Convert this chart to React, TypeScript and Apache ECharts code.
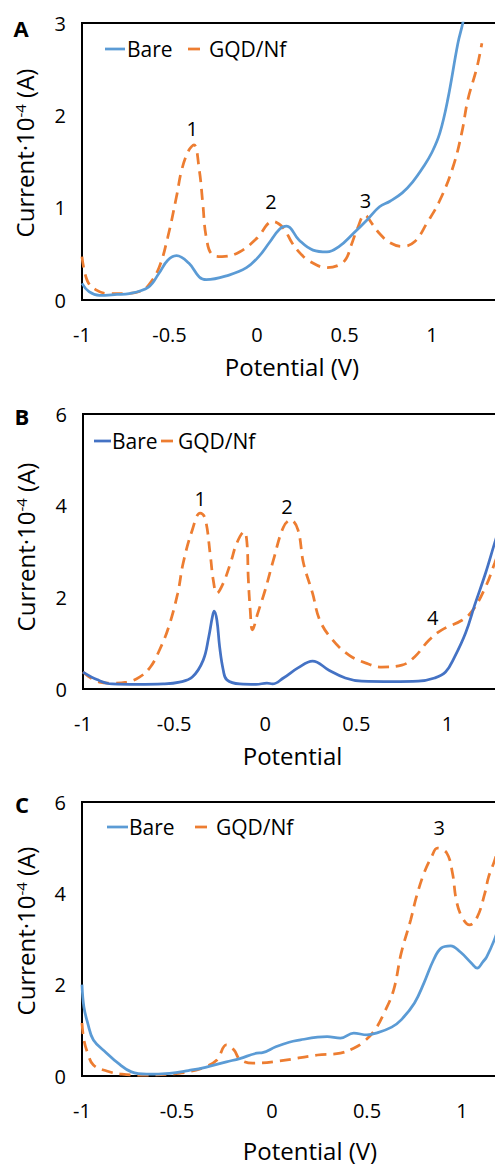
import React, { useEffect, useRef } from 'react';
import * as echarts from 'echarts';

const FONT = '"Open Sans", Lato, sans-serif';
const BLUE_LIGHT = '#5B9BD5';
const BLUE_DARK = '#4472C4';
const ORANGE = '#ED7D31';

const SERIES_NAMES = ['Bare', 'GQD/Nf'];
const X_TITLES = ['Potential (V)', 'Potential', 'Potential (V)'];
const PANEL_LETTERS = ['A', 'B', 'C'];

// Panel A
const A_BARE_X = [-1, -0.96, -0.9, -0.8, -0.73, -0.62, -0.56, -0.51, -0.46, -0.39, -0.33, -0.29, -0.16, -0.06, 0.01, 0.07, 0.13, 0.17, 0.24, 0.32, 0.40, 0.47, 0.55, 0.63, 0.70, 0.76, 0.83, 0.89, 0.95, 1.0, 1.045, 1.09, 1.148, 1.176, 1.2];
const A_BARE_Y = [0.18, 0.09, 0.05, 0.06, 0.07, 0.14, 0.29, 0.43, 0.48, 0.40, 0.25, 0.22, 0.27, 0.35, 0.47, 0.62, 0.77, 0.80, 0.65, 0.54, 0.52, 0.58, 0.72, 0.87, 1.01, 1.07, 1.16, 1.28, 1.44, 1.6, 1.81, 2.17, 2.78, 3.0, 3.25];
const A_GQD_X = [-1, -0.97, -0.92, -0.85, -0.75, -0.66, -0.62, -0.56, -0.51, -0.46, -0.43, -0.39, -0.36, -0.33, -0.31, -0.29, -0.255, -0.2, -0.1, 0, 0.09, 0.15, 0.2, 0.25, 0.3, 0.4, 0.47, 0.51, 0.54, 0.575, 0.615, 0.66, 0.7, 0.76, 0.83, 0.9, 0.97, 1.045, 1.12, 1.17, 1.205, 1.257, 1.285];
const A_GQD_Y = [0.47, 0.21, 0.11, 0.07, 0.07, 0.10, 0.16, 0.35, 0.68, 1.12, 1.41, 1.62, 1.68, 1.41, 1.05, 0.68, 0.49, 0.47, 0.52, 0.67, 0.85, 0.78, 0.62, 0.50, 0.42, 0.35, 0.38, 0.45, 0.60, 0.78, 0.92, 0.82, 0.72, 0.62, 0.58, 0.63, 0.83, 1.08, 1.44, 1.81, 2.17, 2.52, 2.78];
const A_PEAK_LABELS = ['1', '2', '3'];
const A_PEAK_X = [-0.37, 0.08, 0.62];
const A_PEAK_Y = [1.86, 1.07, 1.08];

// Panel B
const B_BARE_X = [-1, -0.92, -0.84, -0.7, -0.56, -0.47, -0.40, -0.34, -0.31, -0.29, -0.28, -0.265, -0.25, -0.23, -0.21, -0.14, -0.05, 0.01, 0.04, 0.1, 0.18, 0.26, 0.35, 0.44, 0.53, 0.7, 0.84, 0.93, 0.99, 1.04, 1.10, 1.15, 1.21, 1.26, 1.3];
const B_BARE_Y = [0.37, 0.20, 0.11, 0.10, 0.11, 0.15, 0.26, 0.63, 1.13, 1.57, 1.70, 1.50, 0.92, 0.41, 0.20, 0.11, 0.10, 0.13, 0.11, 0.24, 0.46, 0.61, 0.41, 0.24, 0.17, 0.16, 0.17, 0.24, 0.37, 0.70, 1.22, 1.83, 2.53, 3.19, 3.7];
const B_GQD_X = [-1, -0.91, -0.84, -0.76, -0.69, -0.63, -0.58, -0.53, -0.48, -0.45, -0.40, -0.357, -0.33, -0.30, -0.285, -0.265, -0.23, -0.19, -0.155, -0.115, -0.10, -0.093, -0.082, -0.07, -0.04, 0, 0.045, 0.10, 0.14, 0.18, 0.21, 0.26, 0.30, 0.37, 0.46, 0.55, 0.64, 0.75, 0.82, 0.90, 0.97, 1.08, 1.14, 1.21, 1.26, 1.3];
const B_GQD_Y = [0.37, 0.15, 0.13, 0.15, 0.26, 0.48, 0.85, 1.35, 2.09, 2.75, 3.47, 3.84, 3.73, 2.88, 2.38, 2.09, 2.31, 2.75, 3.19, 3.43, 3.19, 2.44, 1.72, 1.29, 1.66, 2.16, 2.81, 3.53, 3.69, 3.47, 2.75, 2.09, 1.5, 1.07, 0.74, 0.57, 0.48, 0.52, 0.70, 1.07, 1.29, 1.5, 1.72, 2.23, 2.75, 3.2];
const B_PEAK_LABELS = ['1', '2', '4'];
const B_PEAK_X = [-0.357, 0.12, 0.92];
const B_PEAK_Y = [4.15, 3.99, 1.57];

// Panel C
const C_BARE_X = [-1, -0.99, -0.97, -0.94, -0.87, -0.81, -0.74, -0.66, -0.54, -0.44, -0.35, -0.24, -0.17, -0.08, -0.05, 0.02, 0.09, 0.15, 0.24, 0.29, 0.36, 0.43, 0.50, 0.55, 0.63, 0.68, 0.75, 0.80, 0.85, 0.89, 0.94, 0.99, 1.05, 1.08, 1.11, 1.13, 1.17, 1.2, 1.25];
const C_BARE_Y = [2.0, 1.51, 1.16, 0.79, 0.50, 0.28, 0.09, 0.04, 0.06, 0.12, 0.19, 0.31, 0.38, 0.50, 0.51, 0.64, 0.74, 0.79, 0.85, 0.86, 0.83, 0.94, 0.90, 0.94, 1.07, 1.23, 1.6, 2.04, 2.54, 2.8, 2.85, 2.72, 2.47, 2.36, 2.5, 2.61, 2.98, 3.35, 3.9];
const C_GQD_X = [-1, -0.99, -0.97, -0.94, -0.87, -0.79, -0.66, -0.49, -0.40, -0.35, -0.29, -0.24, -0.2, -0.17, -0.1, 0.04, 0.24, 0.36, 0.43, 0.48, 0.54, 0.59, 0.64, 0.68, 0.73, 0.76, 0.80, 0.84, 0.87, 0.92, 0.95, 0.97, 1.0, 1.04, 1.08, 1.12, 1.14, 1.17, 1.2, 1.25];
const C_GQD_Y = [1.16, 0.79, 0.5, 0.24, 0.11, 0.04, 0.02, 0.06, 0.13, 0.2, 0.35, 0.68, 0.57, 0.37, 0.28, 0.33, 0.46, 0.5, 0.61, 0.74, 1.0, 1.38, 1.88, 2.69, 3.42, 3.92, 4.44, 4.8, 4.99, 4.88, 4.44, 3.85, 3.48, 3.31, 3.48, 4.0, 4.36, 4.7, 5.1, 5.6];
const C_PEAK_LABELS = ['3'];
const C_PEAK_X = [0.88];
const C_PEAK_Y = [5.45];

const X_MIN = -1;
const X_MAX = [1.4, 1.3, 1.4];
const Y_MAX = [3, 6, 6];
const Y_INTERVAL = [1, 2, 2];

const zip = (xs: number[], ys: number[]) => xs.map((x, i) => [x, ys[i]]);

export default function App() {
  const ref = useRef<HTMLDivElement>(null);
  useEffect(() => {
    document.body.style.margin = '0';
    const chart = echarts.init(ref.current as HTMLDivElement, null, { renderer: 'svg' });

    const grids = [
      { left: 82, top: 23, width: 420, height: 277 },
      { left: 83, top: 414, width: 419, height: 275 },
      { left: 82, top: 802, width: 456, height: 274 },
    ];
    const bareColors = [BLUE_LIGHT, BLUE_DARK, BLUE_LIGHT];
    const data = [
      [zip(A_BARE_X, A_BARE_Y), zip(A_GQD_X, A_GQD_Y)],
      [zip(B_BARE_X, B_BARE_Y), zip(B_GQD_X, B_GQD_Y)],
      [zip(C_BARE_X, C_BARE_Y), zip(C_GQD_X, C_GQD_Y)],
    ];
    const peaks = [
      A_PEAK_LABELS.map((l, i) => ({ name: l, coord: [A_PEAK_X[i], A_PEAK_Y[i]] })),
      B_PEAK_LABELS.map((l, i) => ({ name: l, coord: [B_PEAK_X[i], B_PEAK_Y[i]] })),
      C_PEAK_LABELS.map((l, i) => ({ name: l, coord: [C_PEAK_X[i], C_PEAK_Y[i]] })),
    ];
    const xTitleGap = [54, 54, 62];

    const series: any[] = [];
    for (let p = 0; p < 3; p++) {
      series.push({
        name: SERIES_NAMES[0],
        type: 'line',
        xAxisIndex: p,
        yAxisIndex: p,
        data: data[p][0],
        smooth: 0.4,
        showSymbol: false,
        symbol: 'none',
        lineStyle: { color: bareColors[p], width: 2.75 },
        itemStyle: { color: bareColors[p] },
        z: 3,
      });
      series.push({
        name: SERIES_NAMES[1],
        type: 'line',
        xAxisIndex: p,
        yAxisIndex: p,
        data: data[p][1],
        smooth: 0.4,
        showSymbol: false,
        symbol: 'none',
        lineStyle: { color: ORANGE, width: 2.75, type: [11, 7] },
        itemStyle: { color: ORANGE },
        z: 2,
        markPoint: {
          symbol: 'circle',
          symbolSize: 0,
          silent: true,
          data: peaks[p],
          label: {
            show: true,
            position: 'inside',
            formatter: '{b}',
            color: '#000',
            fontFamily: FONT,
            fontSize: 20,
          },
        },
      });
    }

    const legendSpecs = [
      { y: 49, line: [105, 125], bare: 127, dash: [188, 200], gqd: 209 },
      { y: 441, line: [94, 111], bare: 112, dash: [161, 173], gqd: 178 },
      { y: 827, line: [107, 128], bare: 129, dash: [195, 207], gqd: 216 },
    ];
    const yTitleCenters = [[24, 153], [25, 547], [25, 931]];
    const letterPos = [[21, 28], [22, 416], [22, 804]];

    const graphic: any[] = [];
    for (let p = 0; p < 3; p++) {
      const L = legendSpecs[p];
      graphic.push({
        type: 'line',
        shape: { x1: L.line[0], y1: L.y, x2: L.line[1], y2: L.y },
        style: { stroke: bareColors[p], lineWidth: 2.75 },
      });
      graphic.push({
        type: 'text',
        x: L.bare,
        y: L.y,
        style: { text: SERIES_NAMES[0], font: `21px ${FONT}`, fill: '#000', textAlign: 'left', textVerticalAlign: 'middle' },
      });
      graphic.push({
        type: 'line',
        shape: { x1: L.dash[0], y1: L.y, x2: L.dash[1], y2: L.y },
        style: { stroke: ORANGE, lineWidth: 2.75 },
      });
      graphic.push({
        type: 'text',
        x: L.gqd,
        y: L.y,
        style: { text: SERIES_NAMES[1], font: `21px ${FONT}`, fill: '#000', textAlign: 'left', textVerticalAlign: 'middle' },
      });
      graphic.push({
        type: 'text',
        x: yTitleCenters[p][0],
        y: yTitleCenters[p][1],
        rotation: Math.PI / 2,
        style: {
          text: 'Current·10{s|-4} (A)',
          font: `24px ${FONT}`,
          fill: '#000',
          textAlign: 'center',
          textVerticalAlign: 'middle',
          rich: { s: { fontSize: 15, fontFamily: FONT, verticalAlign: 'top', fill: '#000' } },
        },
      });
      graphic.push({
        type: 'text',
        x: letterPos[p][0],
        y: letterPos[p][1],
        style: { text: PANEL_LETTERS[p], font: `bold 22px ${FONT}`, fill: '#000', textAlign: 'center', textVerticalAlign: 'middle' },
      });
    }

    const option: any = {
      animation: false,
      backgroundColor: '#fff',
      grid: grids.map((g) => ({ ...g, show: true, borderColor: '#000', borderWidth: 2, backgroundColor: 'transparent' })),
      xAxis: grids.map((_, p) => ({
        type: 'value',
        gridIndex: p,
        min: X_MIN,
        max: X_MAX[p],
        interval: 0.5,
        name: X_TITLES[p],
        nameLocation: 'middle',
        nameGap: xTitleGap[p],
        nameTextStyle: { fontFamily: FONT, fontSize: 24, color: '#000' },
        axisLine: { show: true, onZero: false, lineStyle: { color: '#000', width: 2 } },
        axisTick: { show: false },
        splitLine: { show: false },
        axisLabel: { fontFamily: FONT, fontSize: 20, color: '#000', margin: 24, showMaxLabel: false, showMinLabel: true },
      })),
      yAxis: grids.map((_, p) => ({
        type: 'value',
        gridIndex: p,
        min: 0,
        max: Y_MAX[p],
        interval: Y_INTERVAL[p],
        axisLine: { show: true, onZero: false, lineStyle: { color: '#000', width: 2 } },
        axisTick: { show: false },
        splitLine: { show: false },
        axisLabel: { fontFamily: FONT, fontSize: 20, color: '#000', margin: 16 },
      })),
      series,
      graphic,
    };
    chart.setOption(option);
    return () => chart.dispose();
  }, []);
  return (
    <div style={{ position: 'absolute', left: 0, top: 0, width: 495, height: 1167, overflow: 'hidden', background: '#fff' }}>
      <style>{'svg text{font-variant-ligatures:none;}'}</style>
      <div ref={ref} style={{ width: 560, height: 1167 }} />
    </div>
  );
}
